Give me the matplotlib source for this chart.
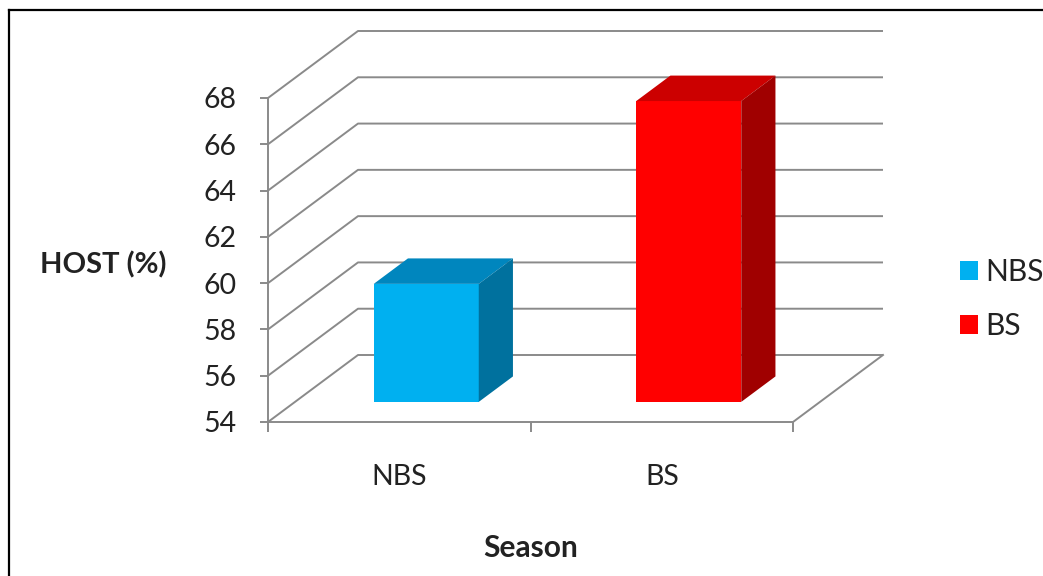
import matplotlib
matplotlib.use('Agg')
import matplotlib.pyplot as plt
from matplotlib.patches import Polygon, Patch
from matplotlib.lines import Line2D

# ---- data ----
categories = ['NBS', 'BS']
values = [59.1, 67.0]
front_colors = ['#00B0F0', '#FF0000']
top_colors = ['#0086BE', '#CC0000']
side_colors = ['#00719E', '#A00000']
y_ticks = [54, 56, 58, 60, 62, 64, 66, 68]
y_min, y_max = 54, 68
x_title = 'Season'
y_title = 'HOST (%)'

W, H = 1043, 576
plt.rcParams['font.family'] = ['Lato', 'DejaVu Sans']
fig = plt.figure(figsize=(W / 100, H / 100), dpi=100)

ax = fig.add_axes([268 / W, 1 - 422 / H, (793 - 268) / W, (422 - 98) / H])
n = len(categories)
ax.set_xlim(0, n)
ax.set_ylim(y_min, y_max)

# oblique depth offset (data units)
DX = 90 / 262.5
DY = 67 / (324 / (y_max - y_min))
grid_c = '#8A8A8A'
lw = 1.4

# walls / gridlines
for v in y_ticks:
    ax.plot([0, DX, n + DX], [v, v + DY, v + DY], color=grid_c, lw=lw,
            clip_on=False, zorder=1, solid_capstyle='butt')
ax.plot([n, n + DX], [y_min, y_min + DY], color=grid_c, lw=lw,
        clip_on=False, zorder=1)

# bars
f1, f2 = 0.30, 0.68
half = 0.2
for i, (v, fc, tc, sc) in enumerate(zip(values, front_colors, top_colors, side_colors)):
    x0 = i + 0.5 - half + f1 * DX
    x1 = i + 0.5 + half + f1 * DX
    b = y_min + f1 * DY
    t = v + f1 * DY
    ddx = (f2 - f1) * DX
    ddy = (f2 - f1) * DY
    ax.add_patch(Polygon([(x0, b), (x1, b), (x1, t), (x0, t)], closed=True,
                         facecolor=fc, edgecolor='none', zorder=3, clip_on=False))
    ax.add_patch(Polygon([(x0, t), (x1, t), (x1 + ddx, t + ddy), (x0 + ddx, t + ddy)],
                         closed=True, facecolor=tc, edgecolor='none', zorder=3, clip_on=False))
    ax.add_patch(Polygon([(x1, b), (x1 + ddx, b + ddy), (x1 + ddx, t + ddy), (x1, t)],
                         closed=True, facecolor=sc, edgecolor='none', zorder=3, clip_on=False))

# axes styling
for s in ['top', 'right']:
    ax.spines[s].set_visible(False)
for s in ['left', 'bottom']:
    ax.spines[s].set_color(grid_c)
    ax.spines[s].set_linewidth(lw)
ax.set_yticks(y_ticks)
ax.set_yticklabels([str(t) for t in y_ticks])
ax.tick_params(axis='y', direction='out', length=5.8, width=lw, color=grid_c,
               labelsize=20.5, pad=17, labelcolor='#222222')
ax.set_xticks([0, 1, 2])
ax.set_xticklabels(['', '', ''])
ax.tick_params(axis='x', which='major', direction='out', length=7.2, width=lw, color=grid_c)
ax.set_xticks([0.5, 1.5], minor=True)
ax.set_xticklabels(categories, minor=True)
ax.tick_params(axis='x', which='minor', length=0, labelsize=20.5, pad=30, labelcolor='#222222')
ax.patch.set_visible(False)

fig.text(103 / W, 1 - 265 / H, y_title, fontsize=21, fontweight='bold',
         ha='center', va='center', color='#222222')
fig.text(531 / W, 1 - 548 / H, x_title, fontsize=21.5, fontweight='bold',
         ha='center', va='center', color='#222222')

handles = [Patch(facecolor=c, edgecolor='none') for c in front_colors]
fig.legend(handles, categories, loc='center left', bbox_to_anchor=(960 / W, 1 - 299 / H),
           frameon=False, fontsize=21.5, handlelength=0.6, handleheight=0.6,
           handletextpad=0.25, labelspacing=0.85, borderpad=0, borderaxespad=0,
           labelcolor='#222222')

# outer frame (left and top edges visible)
fig.add_artist(Line2D([9 / W, 9 / W], [0, 1 - 10 / H], transform=fig.transFigure,
                      color='black', lw=1.6))
fig.add_artist(Line2D([9 / W, 1], [1 - 10 / H, 1 - 10 / H], transform=fig.transFigure,
                      color='black', lw=1.6))

fig.savefig('out.png', dpi=100)
